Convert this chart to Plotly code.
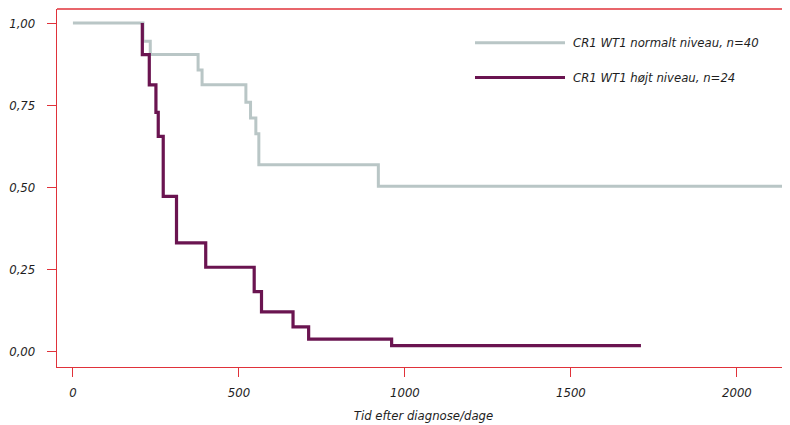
import plotly.graph_objects as go

# ---- data ----
normal_name = "CR1 WT1 normalt niveau, n=40"
normal_days = [0, 211, 233, 377, 389, 521, 535, 551, 560, 920, 2141]
normal_surv = [1.0, 0.945, 0.904, 0.857, 0.8125, 0.759, 0.711, 0.663, 0.568, 0.503, 0.503]

high_name = "CR1 WT1 højt niveau, n=24"
high_days = [209, 209, 230, 250, 257, 272, 312, 400, 546, 568, 663, 710, 960, 1711]
high_surv = [1.0, 0.904, 0.812, 0.728, 0.655, 0.472, 0.330, 0.256, 0.182, 0.120, 0.074, 0.037, 0.017, 0.017]

x_ticks = [0, 500, 1000, 1500, 2000]
x_ticklabels = ["0", "500", "1000", "1500", "2000"]
y_ticks = [0.0, 0.25, 0.5, 0.75, 1.0]
y_ticklabels = ["0,00", "0,25", "0,50", "0,75", "1,00"]
x_title = "Tid efter diagnose/dage"

# ---- style ----
GRAY = "#b9c6c6"
PURPLE = "#6a1450"
RED = "#e0323a"
FONT = dict(family="Liberation Sans Narrow, DejaVu Sans Condensed, Roboto Condensed, Roboto, sans-serif",
            size=13, color="#1e1e1e", style="italic")

fig = go.Figure()
fig.add_trace(go.Scatter(x=normal_days, y=normal_surv, mode="lines", name=normal_name,
                         line=dict(color=GRAY, width=3, shape="hv"), showlegend=False))
fig.add_trace(go.Scatter(x=high_days, y=high_surv, mode="lines", name=high_name,
                         line=dict(color=PURPLE, width=3.2, shape="hv"), showlegend=False))

# page body has an 8px default margin; plot area wanted at window px 57..790 x 9..367
OFF = 8
L, R, T, B = 57, 790, 9, 367
W, H = 790, 425
def px(xp):
    return (xp - L) / (R - L)
def py(yp):
    return (B - yp) / (B - T)

legend_items = [(normal_name, GRAY, 42.7, 3), (high_name, PURPLE, 77.5, 3.2)]
shapes = [dict(type="line", xref="paper", yref="paper", x0=0, x1=1, y0=1, y1=1,
               line=dict(color=RED, width=1.3))]
annotations = []
for name, col, yy, lw in legend_items:
    shapes.append(dict(type="line", xref="paper", yref="paper",
                       x0=px(475), x1=px(565), y0=py(yy), y1=py(yy),
                       line=dict(color=col, width=lw)))
    annotations.append(dict(xref="paper", yref="paper", x=px(571), y=py(yy),
                            text=name, showarrow=False, xanchor="left", yanchor="middle",
                            font=FONT))

fig.update_layout(
    width=W, height=H,
    margin=dict(l=L - OFF, r=W + OFF - R, t=T - OFF, b=H + OFF - B, autoexpand=False),
    paper_bgcolor="white", plot_bgcolor="white",
    font=FONT,
    shapes=shapes, annotations=annotations,
    showlegend=False,
)
fig.update_xaxes(range=[-48, 2160], tickvals=x_ticks, ticktext=x_ticklabels, automargin=False,
                 showgrid=False, zeroline=False, showline=True, linecolor=RED, linewidth=1.3,
                 ticks="outside", ticklen=9, tickcolor=RED, tickwidth=1.3,
                 tickfont=FONT, ticklabelstandoff=4,
                 title=dict(text=x_title, font=FONT, standoff=12))
fig.update_yaxes(range=[-0.048, 1.043], tickvals=y_ticks, ticktext=y_ticklabels, automargin=False,
                 showgrid=False, zeroline=False, showline=True, linecolor=RED, linewidth=1.3,
                 ticks="outside", ticklen=9, tickcolor=RED, tickwidth=1.3,
                 tickfont=FONT, ticklabelstandoff=9)

fig.write_html("out.html")
